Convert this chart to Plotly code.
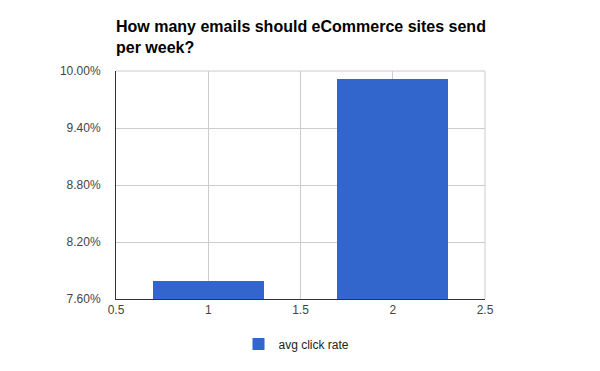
import plotly.graph_objects as go

# Data
emails_per_week = [1, 2]
avg_click_rate = [0.0779, 0.0992]
y_tick_vals = [0.076, 0.082, 0.088, 0.094, 0.100]
x_tick_vals = [0.5, 1, 1.5, 2, 2.5]
x_tick_text = ["0.5", "1", "1.5", "2", "2.5"]

fig = go.Figure()
fig.add_trace(go.Bar(
    x=emails_per_week, y=avg_click_rate, width=0.6,
    name="avg click rate", marker=dict(color="#3366cc", line=dict(width=0)),
    showlegend=True,
))

fig.update_layout(
    width=600, height=371,
    margin=dict(l=108, r=123, t=63, b=80),
    paper_bgcolor="white", plot_bgcolor="white",
    font=dict(family="Arial, Liberation Sans, sans-serif", size=12, color="#444444"),
    title=dict(
        text="<b>How many emails should eCommerce sites send<br>per week?</b>",
        x=108/600, xanchor="left", xref="container",
        y=1 - 24/371, yanchor="top", yref="container",
        font=dict(family="Arial, Liberation Sans, sans-serif", size=16, color="#000000"),
    ),
    xaxis=dict(
        range=[0.5, 2.5], tickvals=x_tick_vals, ticktext=x_tick_text,
        showgrid=True, gridcolor="#cccccc", gridwidth=1,
        showline=True, linecolor="#333333", linewidth=1,
        ticks="", zeroline=False, fixedrange=True,
    ),
    yaxis=dict(
        range=[0.076, 0.100], tickvals=y_tick_vals, tickformat=".2%",
        showgrid=True, gridcolor="#cccccc", gridwidth=1,
        showline=True, linecolor="#333333", linewidth=1,
        ticks="", ticklabelstandoff=12, zeroline=False, fixedrange=True,
    ),
    legend=dict(
        orientation="h", x=0.5 - 4/369, xanchor="center", y=-0.134, yanchor="top",
        itemwidth=30,
        font=dict(size=12, color="#222222"),
    ),
    bargap=0,
    shapes=[
        dict(type="line", xref="paper", yref="paper", x0=0, x1=1, y0=1, y1=1,
             line=dict(color="#cccccc", width=1), layer="below"),
        dict(type="line", xref="paper", yref="paper", x0=1, x1=1, y0=0, y1=1,
             line=dict(color="#cccccc", width=1), layer="below"),
    ],
)

fig.write_html("out.html")
